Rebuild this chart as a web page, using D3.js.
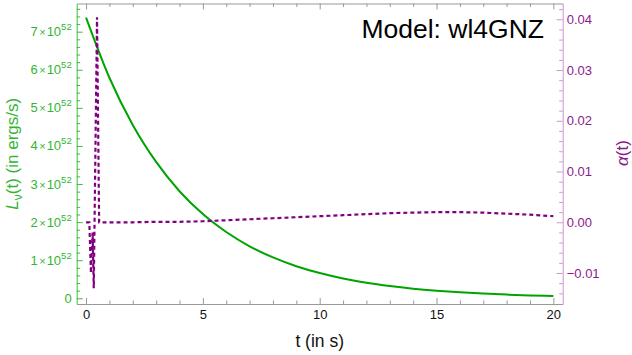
<!DOCTYPE html>
<html>
<head>
<meta charset="utf-8">
<script src="https://cdn.jsdelivr.net/npm/d3@7"></script>
<style>
  html, body { margin: 0; padding: 0; background: #fff; }
  svg { display: block; font-family: "Liberation Sans", Arial, sans-serif; }
</style>
</head>
<body>
<svg id="chart" width="632" height="355"></svg>
<script>
// ---- data ----
const timeL = [0,1,2,3,4,5,6,7,8,9,10,11,12,13,14,15,16,17,18,19,20];
const luminosity = [7.37,5.79,4.55,3.58,2.81,2.21,1.74,1.365,1.073,0.843,0.663,0.521,0.409,0.322,0.253,0.199,0.156,0.123,0.0965,0.0758,0.0596]; // units of 1e52 erg/s

const timeA = [0,0.14,0.21,0.28,0.33,0.47,0.56,1,2,3,4,5,6,7,8,9,10,11,12,13,14,15,16,17,18,19,20];
const alphaValues = [0,0,-0.010,-0.002,-0.013,0.0404,0,0,0,0.0001,0.0001,0.0002,0.0004,0.0006,0.0008,0.0010,0.0012,0.0014,0.0016,0.0018,0.0019,0.0020,0.0020,0.0019,0.0017,0.0015,0.0012];

const xTicks = [0,5,10,15,20];
const xTickLabels = ["0","5","10","15","20"];
const leftTicks = [0,1,2,3,4,5,6,7];
const leftTickMantissa = ["0","1","2","3","4","5","6","7"];
const rightTicks = [-0.01,0,0.01,0.02,0.03,0.04];
const rightTickLabels = ["\u22120.01","0.00","0.01","0.02","0.03","0.04"];

const titleText = "Model: wl4GNZ";

// ---- layout ----
const svg = d3.select("#chart");
const L = 76.7, R = 562.7, T = 3.5, B = 304;

const x = d3.scaleLinear().domain([-0.4, 20.4]).range([L, R]);
const yL = d3.scaleLinear().domain([-0.15, 7.74]).range([B, T]);
const yR = d3.scaleLinear().domain([-0.0161, 0.04311]).range([B, T]);

const green = "#00a300";
const greenAxis = "#3cbf3c";
const greenText = "#33b533";
const purple = "#800080";
const purpleAxis = "#cf94cf";
const purpleText = "#8a1a8a";
const gray = "#999999";

// clip
svg.append("defs").append("clipPath").attr("id","clip")
  .append("rect").attr("x",L).attr("y",T).attr("width",R-L).attr("height",B-T);

// ---- curves ----
const lineL = d3.line().x((d,i)=>x(timeL[i])).y(d=>yL(d)).curve(d3.curveMonotoneX);
const lineA = d3.line().x((d,i)=>x(timeA[i])).y(d=>yR(d)).curve(d3.curveLinear);

svg.append("path").datum(luminosity)
  .attr("clip-path","url(#clip)")
  .attr("d", lineL).attr("fill","none").attr("stroke",green).attr("stroke-width",2);

svg.append("path").datum(alphaValues)
  .attr("clip-path","url(#clip)")
  .attr("d", lineA).attr("fill","none").attr("stroke",purple).attr("stroke-width",2.2)
  .attr("stroke-dasharray","4,3");

// ---- axes ----
const xMinor = d3.range(0, 21, 1).filter(v => xTicks.indexOf(v) < 0);
const leftMinor = d3.range(0, 7.8, 0.2).filter(v => Math.abs(v - Math.round(v)) > 1e-6);
const rightMinor = d3.range(-0.014, 0.0431, 0.002).filter(v => Math.abs(v*100 - Math.round(v*100)) > 1e-6);

function styleAxis(g, color) {
  g.select(".domain").attr("stroke", color).attr("stroke-width", 1);
  g.selectAll(".tick line").attr("stroke", color).attr("stroke-width", 1);
}

// bottom
const gB = svg.append("g").attr("transform",`translate(0,${B})`)
  .call(d3.axisBottom(x).tickValues(xTicks).tickSizeInner(-6).tickSizeOuter(0)
        .tickPadding(6).tickFormat((d,i)=>xTickLabels[i]));
styleAxis(gB, gray);
gB.selectAll("text").attr("fill","#111").attr("font-size",13).attr("font-family","Liberation Sans, Arial, sans-serif");
const gBm = svg.append("g").attr("transform",`translate(0,${B})`)
  .call(d3.axisBottom(x).tickValues(xMinor).tickSizeInner(-3.5).tickSizeOuter(0).tickFormat(""));
styleAxis(gBm, gray); gBm.select(".domain").remove();

// top
const gT = svg.append("g").attr("transform",`translate(0,${T})`)
  .call(d3.axisTop(x).tickValues(xTicks).tickSizeInner(-6).tickSizeOuter(0).tickFormat(""));
styleAxis(gT, gray);
const gTm = svg.append("g").attr("transform",`translate(0,${T})`)
  .call(d3.axisTop(x).tickValues(xMinor).tickSizeInner(-3.5).tickSizeOuter(0).tickFormat(""));
styleAxis(gTm, gray); gTm.select(".domain").remove();

// left
const gL = svg.append("g").attr("transform",`translate(${L},0)`)
  .call(d3.axisLeft(yL).tickValues(leftTicks).tickSizeInner(-6).tickSizeOuter(0).tickFormat(""));
styleAxis(gL, greenAxis);
const gLm = svg.append("g").attr("transform",`translate(${L},0)`)
  .call(d3.axisLeft(yL).tickValues(leftMinor).tickSizeInner(-3.5).tickSizeOuter(0).tickFormat(""));
styleAxis(gLm, greenAxis); gLm.select(".domain").remove();

// left tick labels with superscript
leftTicks.forEach((v,i) => {
  const t = svg.append("text")
    .attr("x", L - 5).attr("y", yL(v) + 4.5)
    .attr("text-anchor","end").attr("fill",greenText).attr("font-size",13);
  if (v === 0) {
    t.text(leftTickMantissa[i]);
  } else {
    t.append("tspan").text(leftTickMantissa[i]);
    t.append("tspan").attr("dx",1.5).attr("font-size",11).text("\u00d7");
    t.append("tspan").attr("dx",1).text("10");
    t.append("tspan").attr("dy",-6).attr("font-size",9.5).text("52");
  }
});

// right
const gR = svg.append("g").attr("transform",`translate(${R},0)`)
  .call(d3.axisRight(yR).tickValues(rightTicks).tickSizeInner(-6).tickSizeOuter(0)
        .tickPadding(4).tickFormat((d,i)=>rightTickLabels[i]));
styleAxis(gR, purpleAxis);
gR.selectAll("text").attr("fill",purpleText).attr("font-size",13).attr("font-family","Liberation Sans, Arial, sans-serif");
const gRm = svg.append("g").attr("transform",`translate(${R},0)`)
  .call(d3.axisRight(yR).tickValues(rightMinor).tickSizeInner(-3.5).tickSizeOuter(0).tickFormat(""));
styleAxis(gRm, purpleAxis); gRm.select(".domain").remove();

// ---- labels ----
svg.append("text").attr("x", (L+R)/2).attr("y", 347)
  .attr("text-anchor","middle").attr("font-size",17.5).attr("fill","#111")
  .text("t (in s)");

const yl = svg.append("text")
  .attr("transform", `translate(18,${(T+B)/2}) rotate(-90)`)
  .attr("text-anchor","middle").attr("font-size",17).attr("fill",greenText);
yl.append("tspan").attr("font-style","italic").text("L");
yl.append("tspan").attr("font-size",12).attr("dy",4).text("\u03bd");
yl.append("tspan").attr("dy",-4).text("(t) (in ergs/s)");

const yr = svg.append("text")
  .attr("transform", `translate(628,${153}) rotate(-90)`)
  .attr("text-anchor","middle").attr("font-size",17).attr("fill",purpleText);
yr.append("tspan").attr("font-style","italic").text("\u03b1");
yr.append("tspan").text("(t)");

svg.append("text").attr("x", 544).attr("y", 37.5)
  .attr("text-anchor","end").attr("font-size",26.5).attr("fill","#000")
  .text(titleText);
</script>
</body>
</html>
